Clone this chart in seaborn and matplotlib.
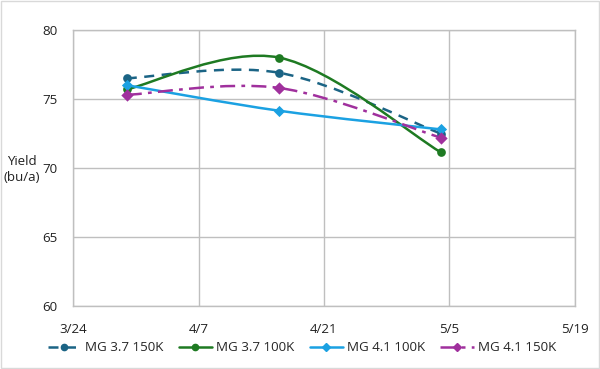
import numpy as np
import pandas as pd
import matplotlib
matplotlib.use("Agg")
import matplotlib.pyplot as plt
import matplotlib.dates as mdates
from matplotlib.path import Path
from matplotlib.patches import PathPatch
from matplotlib.lines import Line2D
import seaborn as sns

dates = ["2021-03-30", "2021-04-16", "2021-05-04"]
series_names = ["MG 3.7 150K", "MG 3.7 100K", "MG 4.1 100K", "MG 4.1 150K"]
mg37_150k = [76.5, 76.9, 72.5]
mg37_100k = [75.7, 78.0, 71.15]
mg41_100k = [76.0, 74.15, 72.8]
mg41_150k = [75.3, 75.8, 72.2]
xtick_labels = ["3/24", "4/7", "4/21", "5/5", "5/19"]
xtick_dates = ["2021-03-24", "2021-04-07", "2021-04-21", "2021-05-05", "2021-05-19"]
yticks = [60, 65, 70, 75, 80]

colors = ["#1B6485", "#1E7A22", "#1BA1E2", "#A0309D"]
styles = [(0, (4, 3)), "-", "-", (0, (6, 2.5, 1.5, 2.5))]
markers = ["o", "o", "D", "D"]
msizes = [5.5, 5.5, 5, 5.5]

sns.set_theme(style="white")
plt.rcParams["font.family"] = ["Open Sans", "DejaVu Sans"]
FS = 9.6

fig = plt.figure(figsize=(6, 3.69), dpi=100)
ax = fig.add_axes([0.1217, 0.1707, 0.8366, 0.748])

xd = mdates.date2num(pd.to_datetime(dates))
values = [mg37_150k, mg37_100k, mg41_100k, mg41_150k]
frames = []
for name, vals in zip(series_names, values):
    frames.append(pd.DataFrame({"date": xd, "yield": vals, "series": name}))
df = pd.concat(frames, ignore_index=True)


def smooth_path(x, y):
    pts = np.column_stack([x, y])
    n = len(pts)
    verts = [pts[0]]
    codes = [Path.MOVETO]
    for i in range(n - 1):
        p0 = pts[i - 1] if i > 0 else pts[i]
        p1 = pts[i]
        p2 = pts[i + 1]
        p3 = pts[i + 2] if i + 2 < n else pts[i + 1]
        c1 = p1 + (p2 - p0) / 6.0
        c2 = p2 - (p3 - p1) / 6.0
        verts += [c1, c2, p2]
        codes += [Path.CURVE4] * 3
    return Path(verts, codes)


handles = []
for name, c, ls, mk, ms in zip(series_names, colors, styles, markers, msizes):
    sub = df[df["series"] == name]
    patch = PathPatch(smooth_path(sub["date"].values, sub["yield"].values),
                      facecolor="none", edgecolor=c, lw=1.8, linestyle=ls, zorder=3)
    ax.add_patch(patch)
    sns.scatterplot(data=sub, x="date", y="yield", color=c, marker=mk,
                    s=ms ** 2 * 1.3, edgecolor=c, linewidth=0, ax=ax, zorder=4,
                    legend=False)
    handles.append(Line2D([0], [0], color=c, lw=1.8, linestyle=ls, marker=mk,
                          markersize=ms - 1, label=name))

xt = mdates.date2num(pd.to_datetime(xtick_dates))
ax.set_xlim(xt[0], xt[-1])
ax.set_ylim(60, 80)
ax.set_xticks(xt)
ax.set_xticklabels(xtick_labels)
ax.set_yticks(yticks)
ax.grid(True, color="#BFBFBF", lw=1)
for s in ax.spines.values():
    s.set_color("#BFBFBF")
    s.set_linewidth(1)
ax.tick_params(axis="both", length=0, labelsize=FS, colors="#222222")
ax.tick_params(axis="x", pad=12)
ax.tick_params(axis="y", pad=11)
ax.set_xlabel("")
ax.set_ylabel("")
fig.text(0.037, 0.54, "Yield\n(bu/a)", ha="center", va="center",
         fontsize=FS, color="#222222", linespacing=1.25)

fig.legend(handles=handles, loc="center", bbox_to_anchor=(0.503, 0.057), ncol=4,
           frameon=False, fontsize=FS, handlelength=2.5, handletextpad=0.3,
           columnspacing=1.15, borderaxespad=0, borderpad=0)

fig.patches.append(plt.Rectangle((0.002, 0.003), 0.996, 0.994, transform=fig.transFigure,
                                 fill=False, edgecolor="#D9D9D9", lw=1))
fig.savefig("out.png", dpi=100)
